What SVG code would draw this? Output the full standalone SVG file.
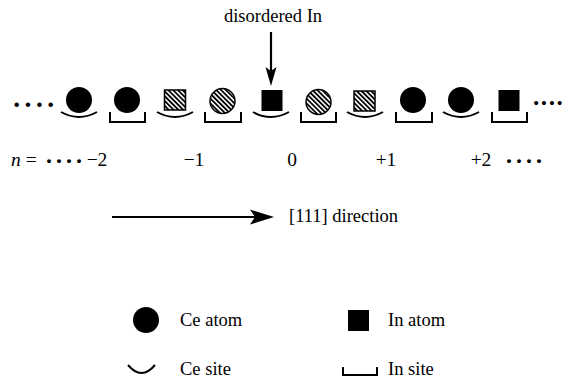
<svg xmlns="http://www.w3.org/2000/svg" width="566" height="380" viewBox="0 0 566 380">
<style>
text{font-family:"Liberation Serif","Times New Roman",serif;font-size:18.5px;fill:#000}
.num{font-size:19.5px}
.dots{font-size:28px;font-weight:bold;letter-spacing:2px}
.rdots{font-size:25px;font-weight:bold;letter-spacing:-0.5px}
.ndots{font-size:24px;font-weight:bold;letter-spacing:2px}
.atom{fill:#000}
.hatch{fill:url(#hatch);stroke:#000;stroke-width:1.5}
.site{fill:none;stroke:#000;stroke-width:2}
.conn{fill:none;stroke:#000;stroke-width:2.2}
</style>
<defs>
<pattern id="hatch" width="3.4" height="3.4" patternUnits="userSpaceOnUse" patternTransform="rotate(-45)">
<rect width="3.4" height="3.4" fill="#fff"/>
<rect width="1.8" height="3.4" fill="#000"/>
</pattern>
</defs>

<text x="273" y="22" text-anchor="middle">disordered In</text>

<text class="dots" x="12" y="114">····</text>
<text class="rdots" x="532" y="111">····</text>

<g id="pos1"><circle class="atom" cx="79" cy="100" r="13"/><path class="site" d="M61,112 Q79,122 97,112"/></g>
<g id="pos2"><circle class="atom" cx="127" cy="100" r="13"/><path class="site" d="M110,112 V122 H145 V112"/></g>
<g id="pos3"><rect class="hatch" x="164.5" y="90" width="21" height="20"/><path class="site" d="M157,112 Q175,122 193,112"/></g>
<g id="pos4"><circle class="hatch" cx="222.5" cy="101" r="12.5"/><path class="site" d="M205,112 V122 H241 V112"/></g>
<g id="pos5"><rect class="atom" x="261.5" y="90" width="21" height="21"/><path class="site" d="M253,112 Q271,122 289,112"/></g>
<g id="pos6"><circle class="hatch" cx="318.5" cy="102" r="12.5"/><path class="site" d="M301,112 V122 H336 V112"/></g>
<g id="pos7"><rect class="hatch" x="354" y="91" width="21" height="20"/><path class="site" d="M347,112 Q365,122 383,112"/></g>
<g id="pos8"><circle class="atom" cx="413" cy="100" r="13"/><path class="site" d="M396,112 V122 H432 V112"/></g>
<g id="pos9"><circle class="atom" cx="461" cy="100" r="13"/><path class="site" d="M443,112 Q461,122 479,112"/></g>
<g id="pos10"><rect class="atom" x="498.5" y="90" width="21" height="21"/><path class="site" d="M492,112 V122 H527 V112"/></g>

<text class="num" x="11" y="166"><tspan font-style="italic">n</tspan> =</text>
<text class="ndots" x="45" y="169">····</text>
<text class="num" x="97" y="166" text-anchor="middle">−2</text>
<text class="num" x="194" y="166" text-anchor="middle">−1</text>
<text class="num" x="292" y="166" text-anchor="middle">0</text>
<text class="num" x="386" y="166" text-anchor="middle">+1</text>
<text class="num" x="481" y="166" text-anchor="middle">+2</text>
<text class="ndots" x="505" y="169">····</text>

<g id="connectors">
<line class="conn" x1="271" y1="32" x2="271" y2="72"/>
<path d="M271,86 L265.5,67 L271,71 L276.5,67 Z" fill="#000"/>
<line class="conn" x1="112" y1="217" x2="258" y2="217"/>
<path d="M274,217 L250,209.5 L255,217 L250,224.5 Z" fill="#000"/>
</g>
<text x="289" y="222">[111] direction</text>

<g id="legend-ce-atom"><circle class="atom" cx="146" cy="320" r="13"/><text x="180" y="326">Ce atom</text></g>
<g id="legend-in-atom"><rect class="atom" x="348" y="310" width="21" height="21"/><text x="388" y="326">In atom</text></g>
<g id="legend-ce-site"><path class="site" d="M128,365 Q141.5,381 155,365"/><text x="180" y="375">Ce site</text></g>
<g id="legend-in-site"><path class="site" d="M343,367 V375 H377 V367"/><text x="388" y="375">In site</text></g>
</svg>
